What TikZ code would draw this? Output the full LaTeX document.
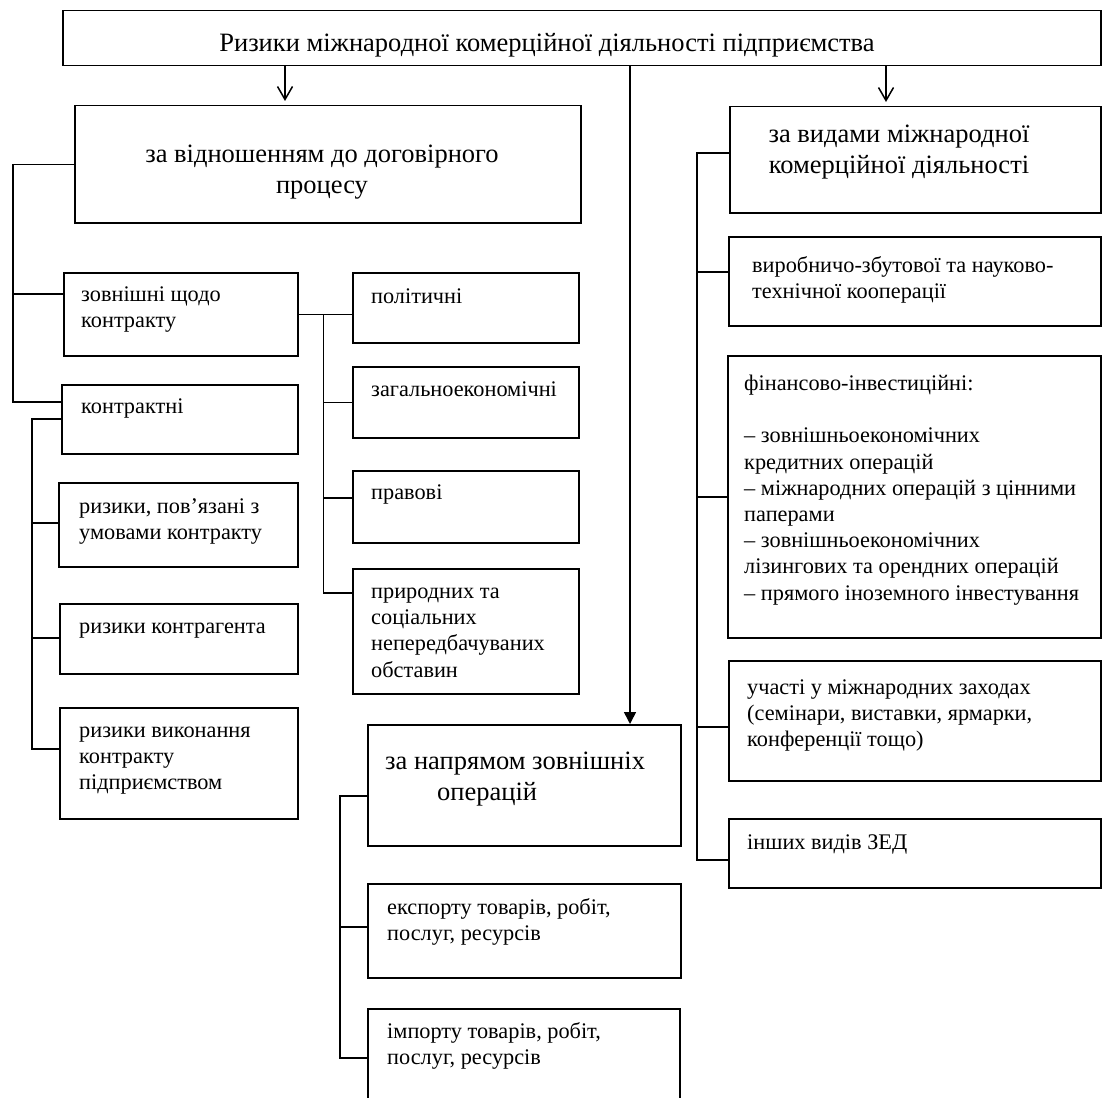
\documentclass[tikz,border=0pt]{standalone}
\usepackage{fontspec}
\setmainfont{Liberation Serif}
\usetikzlibrary{arrows.meta}

\begin{document}
\begin{tikzpicture}[x=1pt, y=-1pt,
 box/.style={draw, line width=1.5pt, inner sep=0pt, anchor=north west},
 txt/.style={anchor=north west, inner sep=0pt, align=left, font=\fontsize{22.3}{26.2}\selectfont},
 head/.style={anchor=north, inner sep=0pt, align=center, font=\fontsize{26.5}{30.5}\selectfont},
 link/.style={line width=1.5pt}]
\useasboundingbox (0,0) rectangle (1102,1097);

% heading boxes
\foreach \n/\xa/\ya/\xb/\yb in {top/62/10/1100/65, rel/74/105/580/222, kind/729/106/1100/212, dir/367/724/680/845}
 \node[box, minimum width={(\xb-\xa)*1pt}, minimum height={(\yb-\ya)*1pt}] (\n) at (\xa,\ya) {};
\node[head] (ttop) at (547,30) {\strut Ризики міжнародної комерційної діяльності підприємства};
\node[head] (trel) at (322,141) {\strut за відношенням до договірного\\процесу};
\node[head] (tkind) at (899,121) {\strut за видами міжнародної\\комерційної діяльності};
\node[head, anchor=north west, align=left] (tdir) at (385,748) {\strut за напрямом зовнішніх\\\hspace*{52pt}операцій};

% small boxes with their texts
\foreach \n/\xa/\ya/\xb/\yb/\tx/\ty/\t in {
 ext/63/272/297/355/81/283/{зовнішні щодо\\контракту},
 con/61/384/297/453/81/395/{контрактні},
 terms/58/482/297/566/79/495/{ризики, пов’язані з\\умовами контракту},
 party/59/603/297/673/79/615/{ризики контрагента},
 perf/59/707/297/818/79/719/{ризики виконання\\контракту\\підприємством},
 pol/352/272/578/342/371/285/{політичні},
 econ/352/366/578/437/371/378/{загальноекономічні},
 law/352/470/578/542/371/481/{правові},
 nat/352/568/578/693/371/580/{природних та\\соціальних\\непередбачуваних\\обставин},
 exp/367/883/680/977/387/896/{експорту товарів, робіт,\\послуг, ресурсів},
 imp/367/1008/679/1110/387/1020/{імпорту товарів, робіт,\\послуг, ресурсів},
 coop/728/236/1100/325/752/254/{виробничо-збутової та науково-\\технічної кооперації},
 fin/727/355/1100/637/744/372/{фінансово-інвестиційні:\\\mbox{}\\– зовнішньоекономічних\\кредитних операцій\\– міжнародних операцій з цінними\\паперами\\– зовнішньоекономічних\\лізингових та орендних операцій\\– прямого іноземного інвестування},
 events/728/660/1100/780/747/676/{участі у міжнародних заходах\\(семінари, виставки, ярмарки,\\конференції тощо)},
 other/728/818/1100/887/747/831/{інших видів ЗЕД}}
{
 \node[box, minimum width={(\xb-\xa)*1pt}, minimum height={(\yb-\ya)*1pt}] (\n) at (\xa,\ya) {};
 \node[txt] (t\n) at (\tx,\ty) {\strut\t};
}

% arrows from the top box
\coordinate (xl) at (285,0);
\coordinate (xm) at (630,0);
\coordinate (xr) at (886,0);
\draw[link, -{Straight Barb[length=13pt,width=15pt]}, shorten >=4pt] (top.south -| xl) -- (rel.north -| xl);
\draw[link, -{Straight Barb[length=13pt,width=15pt]}, shorten >=4pt] (top.south -| xr) -- (kind.north -| xr);
\draw[link, -{Triangle[length=12pt,width=12pt]}] (top.south -| xm) -- (dir.north -| xm);

% left branch
\draw[link] (rel.west) -- ++(-61,0) coordinate (busA) |- ([yshift=-22pt]ext.north west);
\draw[link] (busA) |- ([yshift=-18pt]con.north west);
\draw[link] ([yshift=-35pt]con.north west) -- ++(-29,0) coordinate (busB) |- ([yshift=-41pt]terms.north west);
\draw[link] (busB) |- ([yshift=-35pt]party.north west);
\draw[link] (busB) |- ([yshift=-42pt]perf.north west);

% external risks
\draw[link] (ext.east) -- (ext.east -| pol.west);
\draw[link] (ext.east) ++(25,0) coordinate (busC) |- ([yshift=-25pt]nat.north west);
\draw[link] (busC) |- (econ.west);
\draw[link] (busC) |- ([yshift=-28pt]law.north west);

% direction of operations
\draw[link] ([yshift=-72pt]dir.north west) -- ++(-27,0) coordinate (busD) |- ([yshift=-44pt]exp.north west);
\draw[link] (busD) |- ([yshift=-50pt]imp.north west);

% kinds of activity
\draw[link] ([yshift=-47pt]kind.north west) -- ++(-32,0) coordinate (busE) |- ([yshift=-36pt]coop.north west);
\draw[link] (busE) |- ([yshift=-142pt]fin.north west);
\draw[link] (busE) |- ([yshift=-67pt]events.north west);
\draw[link] (busE) |- ([yshift=-42pt]other.north west);
\end{tikzpicture}
\end{document}
